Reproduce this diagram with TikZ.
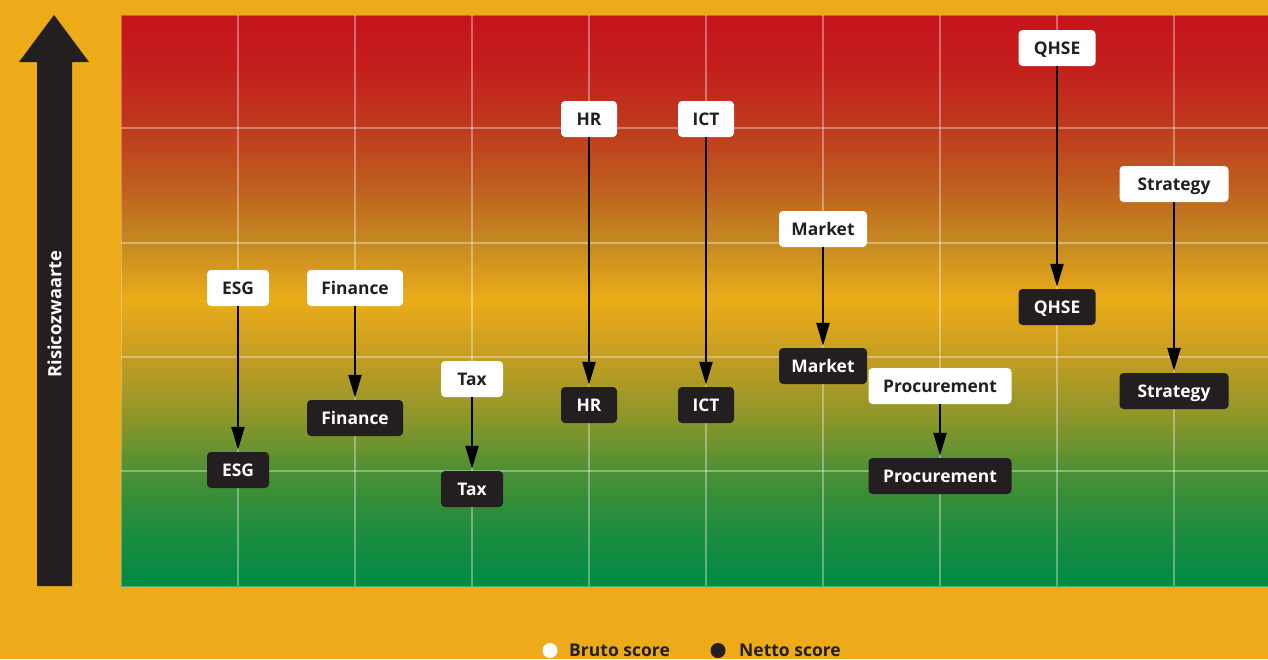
\documentclass[tikz,border=0pt]{standalone}
\usepackage{fontspec}
\setmainfont{Open Sans}
\usetikzlibrary{arrows.meta}
\definecolor{bgyellow}{HTML}{EDAB1A}
\definecolor{darkbox}{HTML}{231F20}
\pgfdeclareverticalshading{risk}{100bp}{%
 color(0bp)=(rgb,255:red,0;green,139;blue,69);
 color(25bp)=(rgb,255:red,0;green,139;blue,69);
 color(30bp)=(rgb,255:red,30;green,140;blue,62);
 color(35.07bp)=(rgb,255:red,76;green,144;blue,52);
 color(39.5bp)=(rgb,255:red,138;green,150;blue,42);
 color(45.05bp)=(rgb,255:red,196;green,157;blue,34);
 color(50.04bp)=(rgb,255:red,235;green,172;blue,25);
 color(55.04bp)=(rgb,255:red,197;green,138;blue,32);
 color(60.1bp)=(rgb,255:red,191;green,94;blue,31);
 color(65.1bp)=(rgb,255:red,190;green,58;blue,30);
 color(71bp)=(rgb,255:red,196;green,29;blue,28);
 color(75bp)=(rgb,255:red,196;green,20;blue,28);
 color(100bp)=(rgb,255:red,196;green,20;blue,28)}
\tikzset{
  box/.style={rounded corners=4pt, minimum height=36pt, inner xsep=0pt,
    text height=12.5pt, text depth=0pt, anchor=center,
    font=\bfseries\fontsize{17.4}{20}\selectfont},
  bruto/.style={box, fill=white, text=darkbox},
  netto/.style={box, fill=darkbox, text=white},
  flow/.style={line width=2.4pt, black, -{Triangle[length=23pt,width=13pt]}, shorten >=2pt},
  gridline/.style={white, opacity=0.35, line width=1.5pt},
  legtext/.style={anchor=base west, inner sep=0pt, text=darkbox,
    font=\bfseries\fontsize{17.5}{20}\selectfont}
}
\begin{document}
\begin{tikzpicture}[x=1pt,y=-1pt]
\fill[bgyellow] (0,0) rectangle (1268,659);
\useasboundingbox (0,0) rectangle (1268,659);
% chart background
\shade[shading=risk] (121,15) rectangle (1268,586);
\draw[white, opacity=0.3, line width=1pt] (121,15) rectangle (1268,586);
% grid
\foreach \gx in {238,355,472,589,706,823,940,1057,1174}
  \draw[gridline] (\gx,15) -- (\gx,586);
\foreach \gy in {128,243,357,471}
  \draw[gridline] (121,\gy) -- (1268,\gy);
% big axis arrow
\fill[darkbox] (37,586) -- (37,62) -- (19,62) -- (54,15) -- (89,62) -- (72,62) -- (72,586) -- cycle;
\node[rotate=90, text=white, font=\bfseries\fontsize{18.3}{20}\selectfont] (axislabel) at (54.5,314) {Risicozwaarte};
% bruto nodes
\node[bruto, minimum width=62pt]  (esgB)  at (238,288) {ESG};
\node[bruto, minimum width=96pt]  (finB)  at (355,288) {Finance};
\node[bruto, minimum width=62pt]  (taxB)  at (472,379) {Tax};
\node[bruto, minimum width=56pt]  (hrB)   at (589,119) {HR};
\node[bruto, minimum width=56pt]  (ictB)  at (706,119) {ICT};
\node[bruto, minimum width=88pt]  (mktB)  at (823,229) {Market};
\node[bruto, minimum width=143pt] (proB)  at (940,386) {Procurement};
\node[bruto, minimum width=77pt]  (qhseB) at (1057,48) {QHSE};
\node[bruto, minimum width=109pt] (strB)  at (1174,184) {Strategy};
% netto nodes
\node[netto, minimum width=62pt]  (esgN)  at (238,470) {ESG};
\node[netto, minimum width=96pt]  (finN)  at (355,418) {Finance};
\node[netto, minimum width=62pt]  (taxN)  at (472,489) {Tax};
\node[netto, minimum width=56pt]  (hrN)   at (589,405) {HR};
\node[netto, minimum width=56pt]  (ictN)  at (706,405) {ICT};
\node[netto, minimum width=88pt]  (mktN)  at (823,366) {Market};
\node[netto, minimum width=143pt] (proN)  at (940,476) {Procurement};
\node[netto, minimum width=77pt]  (qhseN) at (1057,307) {QHSE};
\node[netto, minimum width=109pt] (strN)  at (1174,391) {Strategy};
% arrows
\foreach \n in {esg,fin,tax,hr,ict,mkt,pro,qhse,str}
  \draw[flow] (\n B.south) -- (\n N.north);
% legend
\fill[white] (550,650.5) circle (7.5pt);
\node[legtext] (brutoleg) at (569,656) {Bruto score};
\fill[darkbox] (718,650.5) circle (7.5pt);
\node[legtext] (nettoleg) at (739,656) {Netto score};
\end{tikzpicture}
\end{document}
